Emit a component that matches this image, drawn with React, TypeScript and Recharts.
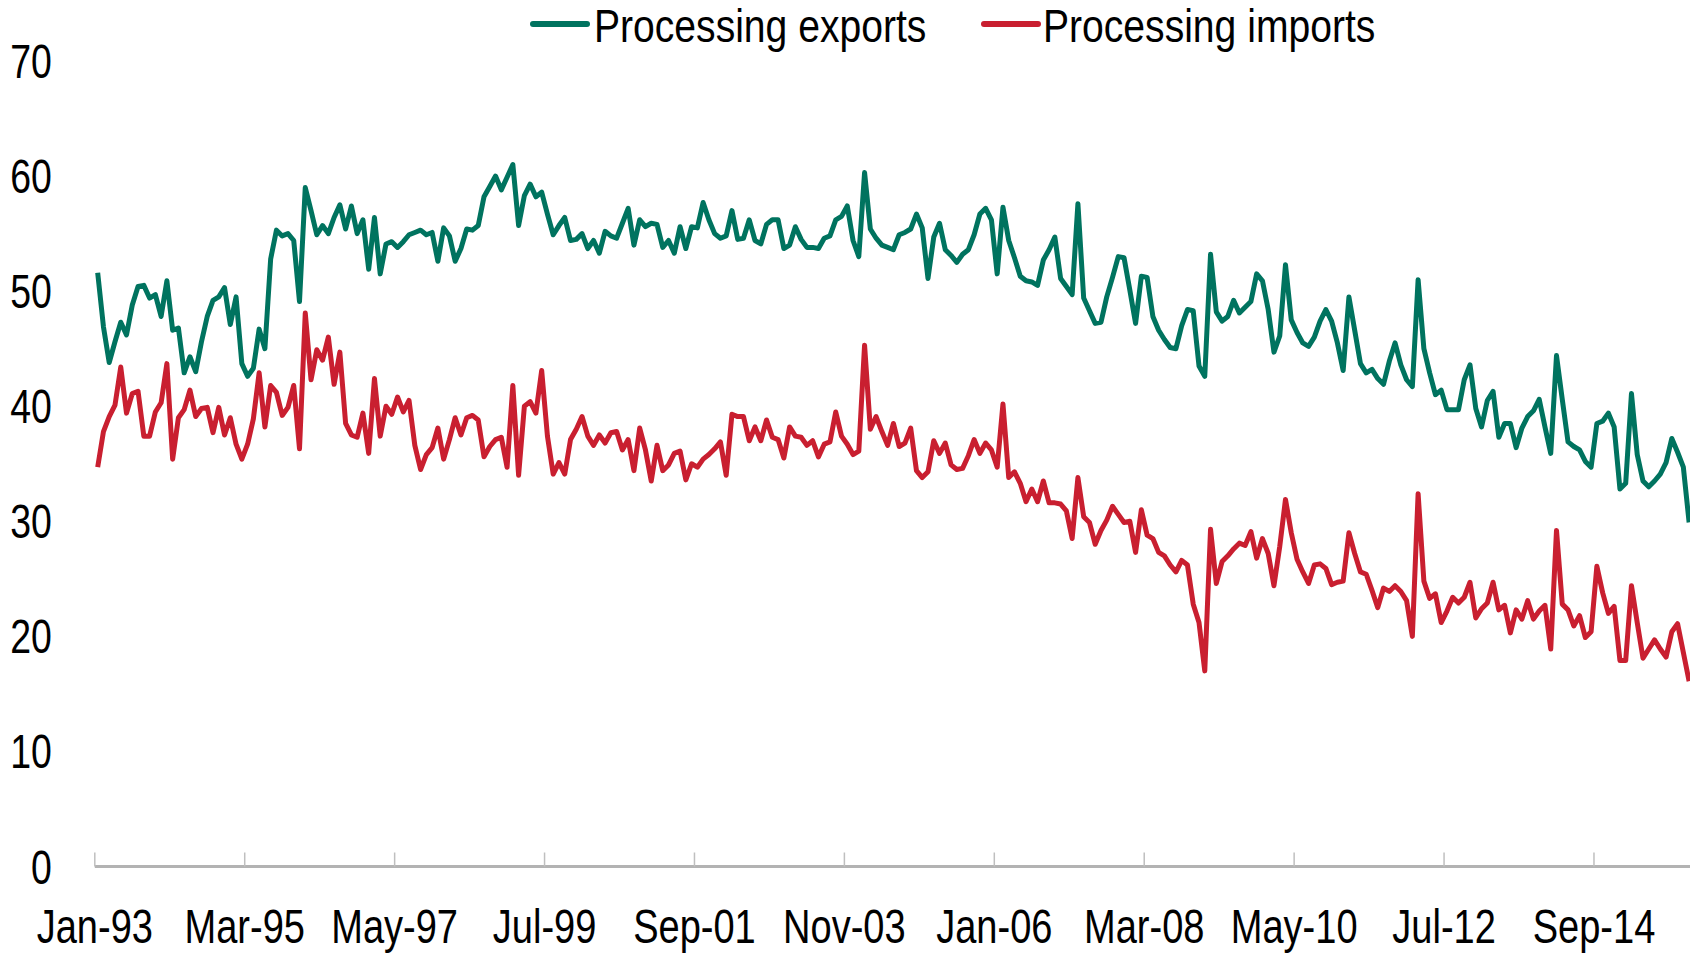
import React from 'react';
import { LineChart, Line, XAxis, YAxis, Legend } from 'recharts';

// Share of processing trade (%), monthly, Jan-93 .. Jan-16
const processingExports: number[] = [
  51.6, 46.9, 43.8, 45.6, 47.3, 46.2, 48.8, 50.4, 50.5, 49.4, 49.7, 47.8, // 1993
  50.9, 46.6, 46.8, 42.9, 44.3, 43.0, 45.6, 47.8, 49.2, 49.5, 50.3, 47.1, // 1994
  49.5, 43.7, 42.6, 43.3, 46.7, 45.0, 52.8, 55.3, 54.8, 55.0, 54.4, 49.1, // 1995
  59.0, 57.0, 54.9, 55.7, 55.0, 56.4, 57.5, 55.4, 57.4, 55.0, 56.2, 51.9, // 1996
  56.4, 51.5, 54.1, 54.3, 53.8, 54.3, 54.9, 55.1, 55.3, 54.9, 55.1, 52.6, // 1997
  55.5, 54.8, 52.6, 53.7, 55.4, 55.3, 55.7, 58.2, 59.1, 60.0, 58.8, 59.9, // 1998
  61.0, 55.7, 58.3, 59.3, 58.2, 58.6, 56.7, 54.9, 55.7, 56.4, 54.4, 54.5, // 1999
  55.0, 53.7, 54.4, 53.3, 55.2, 54.8, 54.6, 55.9, 57.2, 54.0, 56.2, 55.6, // 2000
  55.9, 55.8, 53.8, 54.4, 53.3, 55.6, 53.7, 55.6, 55.5, 57.7, 56.2, 55.0, // 2001
  54.6, 54.8, 57.0, 54.5, 54.6, 56.2, 54.4, 54.1, 55.8, 56.2, 56.2, 53.7, // 2002
  54.0, 55.6, 54.5, 53.8, 53.8, 53.7, 54.6, 54.8, 56.2, 56.5, 57.4, 54.4, // 2003
  53.0, 60.3, 55.4, 54.6, 54.0, 53.8, 53.6, 54.9, 55.1, 55.4, 56.7, 55.5, // 2004
  51.1, 54.7, 55.9, 53.6, 53.1, 52.5, 53.2, 53.6, 54.9, 56.7, 57.2, 56.2, // 2005
  51.5, 57.3, 54.4, 52.9, 51.3, 50.9, 50.8, 50.5, 52.7, 53.6, 54.7, 51.1, // 2006
  50.4, 49.7, 57.6, 49.4, 48.3, 47.2, 47.3, 49.5, 51.2, 53.0, 52.9, 50.1, // 2007
  47.2, 51.3, 51.2, 47.8, 46.6, 45.8, 45.1, 45.0, 47.0, 48.4, 48.3, 43.5, // 2008
  42.6, 53.2, 48.2, 47.4, 47.8, 49.2, 48.1, 48.6, 49.1, 51.5, 50.9, 48.4, // 2009
  44.7, 46.1, 52.3, 47.5, 46.4, 45.5, 45.2, 46.0, 47.4, 48.4, 47.4, 45.5, // 2010
  43.1, 49.5, 46.6, 43.7, 42.9, 43.2, 42.4, 41.9, 43.9, 45.5, 43.6, 42.3, // 2011
  41.7, 51.0, 45.0, 42.9, 41.0, 41.4, 39.7, 39.7, 39.7, 42.3, 43.6, 39.8, // 2012
  38.2, 40.5, 41.3, 37.3, 38.5, 38.5, 36.4, 38.1, 39.1, 39.6, 40.6, 38.2, // 2013
  35.9, 44.4, 40.6, 36.9, 36.5, 36.2, 35.2, 34.7, 38.5, 38.7, 39.4, 38.2, // 2014
  32.8, 33.3, 41.1, 35.8, 33.5, 33.0, 33.5, 34.1, 35.1, 37.2, 36.0, 34.7, // 2015
  29.9, // 2016
];

const processingImports: number[] = [
  34.7, 37.8, 39.1, 40.1, 43.4, 39.4, 41.1, 41.3, 37.4, 37.4, 39.5, 40.3, // 1993
  43.7, 35.4, 39.0, 39.7, 41.4, 39.1, 39.8, 39.9, 37.7, 39.9, 37.5, 39.0, // 1994
  36.7, 35.4, 36.7, 38.9, 42.9, 38.2, 41.8, 41.2, 39.2, 39.9, 41.8, 36.3, // 1995
  48.1, 42.3, 44.9, 44.0, 46.0, 41.9, 44.7, 38.5, 37.5, 37.3, 39.4, 35.9, // 1996
  42.4, 37.4, 40.0, 39.3, 40.8, 39.5, 40.5, 36.6, 34.5, 35.8, 36.4, 38.1, // 1997
  35.4, 37.1, 39.0, 37.5, 39.0, 39.2, 38.8, 35.6, 36.5, 37.1, 37.3, 34.7, // 1998
  41.8, 34.0, 40.0, 40.4, 39.4, 43.1, 37.4, 34.1, 35.1, 34.1, 37.1, 38.0, // 1999
  39.1, 37.4, 36.6, 37.5, 36.8, 37.7, 37.8, 36.2, 37.1, 34.4, 38.1, 36.2, // 2000
  33.5, 36.6, 34.4, 34.9, 35.9, 36.1, 33.6, 35.0, 34.7, 35.4, 35.8, 36.3, // 2001
  36.9, 34.0, 39.3, 39.1, 39.1, 37.0, 38.2, 37.0, 38.8, 37.3, 37.1, 35.5, // 2002
  38.2, 37.4, 37.3, 36.6, 37.0, 35.6, 36.7, 36.9, 39.5, 37.4, 36.7, 35.8, // 2003
  36.1, 45.3, 38.0, 39.1, 37.8, 36.6, 38.5, 36.5, 36.8, 38.1, 34.4, 33.8, // 2004
  34.3, 37.0, 35.9, 36.8, 34.9, 34.5, 34.6, 35.7, 37.1, 35.9, 36.8, 36.2, // 2005
  34.7, 40.2, 33.8, 34.3, 33.3, 31.7, 32.8, 31.7, 33.5, 31.6, 31.6, 31.5, // 2006
  30.9, 28.5, 33.8, 30.4, 29.9, 28.0, 29.2, 30.1, 31.3, 30.6, 29.9, 30.0, // 2007
  27.3, 31.0, 28.8, 28.5, 27.3, 27.0, 26.2, 25.6, 26.6, 26.2, 22.8, 21.2, // 2008
  17.0, 29.3, 24.6, 26.5, 27.0, 27.6, 28.1, 27.9, 29.1, 26.8, 28.5, 27.2, // 2009
  24.4, 27.8, 31.9, 29.0, 26.7, 25.6, 24.6, 26.2, 26.3, 25.9, 24.5, 24.7, // 2010
  24.8, 29.0, 27.2, 25.6, 25.4, 24.0, 22.5, 24.2, 23.9, 24.4, 23.9, 23.1, // 2011
  20.0, 32.4, 24.8, 23.3, 23.7, 21.2, 22.2, 23.4, 22.9, 23.4, 24.7, 21.6, // 2012
  22.4, 22.9, 24.7, 22.3, 22.7, 20.3, 22.3, 21.5, 23.1, 21.5, 22.2, 22.7, // 2013
  18.9, 29.2, 22.8, 22.3, 20.9, 21.8, 19.9, 20.4, 26.1, 23.8, 22.0, 22.6, // 2014
  17.9, 17.9, 24.4, 21.2, 18.1, 18.9, 19.7, 18.9, 18.2, 20.4, 21.1, 18.6, // 2015
  16.1, // 2016
];

const xTickLabels: string[] = [
  'Jan-93', 'Mar-95', 'May-97', 'Jul-99', 'Sep-01', 'Nov-03',
  'Jan-06', 'Mar-08', 'May-10', 'Jul-12', 'Sep-14',
];
const yTicks: number[] = [0, 10, 20, 30, 40, 50, 60, 70];
const seriesNames: string[] = ['Processing exports', 'Processing imports'];

const MONTHS = ['Jan', 'Feb', 'Mar', 'Apr', 'May', 'Jun', 'Jul', 'Aug', 'Sep', 'Oct', 'Nov', 'Dec'];
const START_YEAR = 1993;
const TICK_EVERY = 26;

const data = processingExports.map((v, i) => ({
  idx: i,
  month: `${MONTHS[i % 12]}-${String((START_YEAR + Math.floor(i / 12)) % 100).padStart(2, '0')}`,
  exports: v,
  imports: processingImports[i],
}));

const xTicks = xTickLabels.map((_, k) => k * TICK_EVERY - 0.5);

const GREEN = '#00735F';
const RED = '#C91F30';
const FONT = '"Liberation Sans", Arial, sans-serif';

const XTick = (props: any) => {
  const { x, y, payload } = props;
  const k = Math.round((payload.value + 0.5) / TICK_EVERY);
  return (
    <g>
      <line x1={x} x2={x} y1={y - 14} y2={y} stroke="#bfbfbf" strokeWidth={1.5} />
      <text
        transform={`translate(${x},${y + 76.5}) scale(0.776,1)`}
        textAnchor="middle"
        fontFamily={FONT}
        fontSize={49}
        fill="#000"
      >
        {xTickLabels[k]}
      </text>
    </g>
  );
};

const YTick = (props: any) => {
  const { x, y, payload } = props;
  return (
    <text
      transform={`translate(${x},${y + 17}) scale(0.78,1)`}
      textAnchor="end"
      fontFamily={FONT}
      fontSize={48}
      fill="#000"
    >
      {payload.value}
    </text>
  );
};

const legendPos = [
  { lx1: 533, lx2: 587, tx: 594 },
  { lx1: 984, lx2: 1038, tx: 1043 },
];

const LegendContent = (props: any) => {
  const payload = props.payload || [];
  return (
    <svg width={1690} height={60} style={{ display: 'block' }}>
      {payload.map((p: any, i: number) => {
        const pos = legendPos[i] || legendPos[0];
        return (
          <g key={i}>
            <line x1={pos.lx1} x2={pos.lx2} y1={24} y2={24} stroke={p.color} strokeWidth={6} strokeLinecap="round" />
            <text
              transform={`translate(${pos.tx},42) scale(0.85,1)`}
              fontFamily={FONT}
              fontSize={46}
              fill="#000"
            >
              {p.value}
            </text>
          </g>
        );
      })}
    </svg>
  );
};

export default function App() {
  return (
    <div
      style={{
        position: 'absolute',
        left: 0,
        top: 0,
        width: 1690,
        height: 954,
        overflow: 'hidden',
        background: '#fff',
      }}
    >
      <LineChart
        width={1700}
        height={954}
        data={data}
        margin={{ top: 61, right: 8, bottom: 7.5, left: 0 }}
      >
        <XAxis
          dataKey="idx"
          type="number"
          domain={[-0.5, processingExports.length - 0.5]}
          ticks={xTicks}
          interval={0}
          tick={<XTick />}
          tickLine={false}
          tickSize={0}
          tickMargin={0}
          height={80}
          axisLine={{ stroke: '#b3b3b3', strokeWidth: 3 }}
          allowDataOverflow
        />
        <YAxis
          type="number"
          domain={[0, 70]}
          ticks={yTicks}
          interval={0}
          width={94.8}
          tick={<YTick />}
          tickLine={false}
          axisLine={false}
          tickSize={0}
          tickMargin={43}
        />
        <Legend
          content={<LegendContent />}
          verticalAlign="middle"
          align="center"
          wrapperStyle={{ position: 'absolute', left: 0, top: 0, width: 1690, height: 60 }}
        />
        <Line
          type="linear"
          dataKey="exports"
          name={seriesNames[0]}
          stroke={GREEN}
          strokeWidth={5}
          strokeLinejoin="round"
          dot={false}
          activeDot={false}
          isAnimationActive={false}
        />
        <Line
          type="linear"
          dataKey="imports"
          name={seriesNames[1]}
          stroke={RED}
          strokeWidth={5}
          strokeLinejoin="round"
          dot={false}
          activeDot={false}
          isAnimationActive={false}
        />
      </LineChart>
    </div>
  );
}
